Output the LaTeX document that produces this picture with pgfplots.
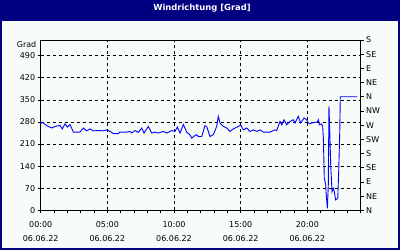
\documentclass[border=0pt]{standalone}
\usepackage{pgfplots}
\pgfplotsset{compat=1.18}
\usepackage{fontspec}
\setmainfont{DejaVu Sans}
\definecolor{navy}{RGB}{0,0,128}
\definecolor{bgc}{RGB}{248,252,248}
\definecolor{lineblue}{RGB}{0,0,255}
\begin{document}
\begin{tikzpicture}
\useasboundingbox (0pt,0pt) rectangle (400pt,250pt);
\fill[navy] (0pt,0pt) rectangle (400pt,250pt);
\fill[bgc] (2pt,2pt) rectangle (398pt,229.3pt);
\node[text=white,font=\bfseries\fontsize{8.4}{10}\selectfont] at (202pt,241.5pt) {Windrichtung [Grad]};
\pgfplotsset{
  commonaxis/.style={
    at={(40.7pt,39.7pt)}, anchor=south west, scale only axis,
    width=320pt, height=170.3pt,
    xmin=0, xmax=24, ymin=0, ymax=540,
    tick align=outside,
    major tick length=3pt, minor tick length=3pt,
    every tick/.style={black, line width=0.8pt},
    axis line style={black, line width=0.8pt},
    tick label style={font=\fontsize{8}{14}\selectfont},
    /pgf/number format/assume math mode=true,
  }
}
\begin{axis}[commonaxis,
  xtick={0,5,10,15,20},
  xticklabels={{00:00\\06.06.22},{05:00\\06.06.22},{10:00\\06.06.22},{15:00\\06.06.22},{20:00\\06.06.22}},
  xticklabel style={align=center, yshift=-5pt},
  minor xtick={1,2,3,4,6,7,8,9,11,12,13,14,16,17,18,19,21,22,23,24},
  ytick={0,70,140,210,280,350,420,490},
  xtick pos=bottom, ytick pos=left,
  yticklabel style={xshift=1pt},
  grid=major,
  major grid style={black, dashed, line width=0.8pt, dash pattern=on 3pt off 3pt},
]
\addplot[lineblue, line width=0.9pt] coordinates {
(0,275)(0.15,279)(0.32,272)(0.57,266)(0.83,261)(1.07,266)(1.45,269)(1.62,258)(1.82,274)(2.0,264)(2.2,272)(2.45,248)(2.95,248)(3.2,261)(3.45,252)(3.7,258)(3.95,252)(4.32,253)(4.7,252)(4.95,255)(5.2,250)(5.45,243)(5.82,243)(5.95,248)(6.45,248)(6.7,250)(6.83,245)(7.07,253)(7.32,247)(7.58,261)(7.75,245)(8.07,266)(8.33,245)(8.57,248)(8.82,245)(9.2,250)(9.45,245)(9.83,253)(10.07,250)(10.25,264)(10.45,245)(10.7,272)(10.95,248)(11.2,239)(11.33,229)(11.57,237)(11.7,240)(11.82,234)(12.08,234)(12.32,268)(12.45,266)(12.7,234)(12.95,240)(13.2,266)(13.32,298)(13.45,277)(13.7,266)(13.95,261)(14.2,250)(14.45,258)(14.82,266)(15.0,271)(15.2,255)(15.45,261)(15.7,250)(15.95,255)(16.2,250)(16.45,255)(16.7,248)(17.2,248)(17.57,255)(17.7,253)(17.95,282)(18.08,271)(18.25,287)(18.45,271)(18.7,282)(18.95,287)(19.07,277)(19.32,298)(19.5,277)(19.75,293)(19.95,287)(20.07,277)(20.2,274)(20.33,277)(20.57,279)(20.75,280)(20.82,287)(20.9,271)(21.07,274)(21.15,266)(21.2,229)(21.27,102)(21.38,80)(21.4,59)(21.5,6)(21.57,80)(21.62,330)(21.68,250)(21.75,144)(21.85,59)(21.95,70)(22.02,59)(22.12,33)(22.28,38)(22.35,123)(22.43,250)(22.47,360)(23.75,360)
};
\end{axis}
\begin{axis}[commonaxis,
  axis x line=none,
  axis y line*=right,
  ytick={0,45,...,540},
  yticklabels={N,NE,E,SE,S,SW,W,NW,N,NE,E,SE,S},
  yticklabel style={anchor=west, xshift=-1pt},
]
\addplot[draw=none] coordinates {(0,0)};
\end{axis}
\node[anchor=east, inner sep=0pt, font=\fontsize{8}{10}\selectfont] at (36.5pt,205.5pt) {Grad};
\end{tikzpicture}
\end{document}
